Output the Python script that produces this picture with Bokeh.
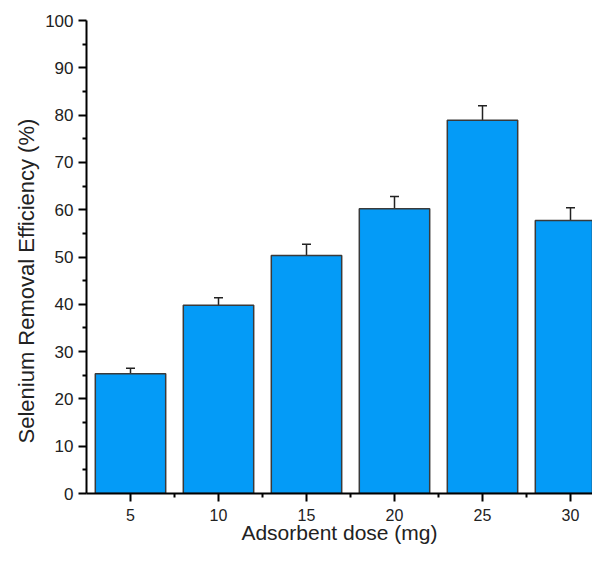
from bokeh.plotting import figure
from bokeh.models import ColumnDataSource, Whisker, FixedTicker, Range1d, TeeHead, Title
from bokeh.embed import file_html
from bokeh.resources import INLINE

dose = [5, 10, 15, 20, 25, 30]
efficiency = [25.3, 39.8, 50.3, 60.2, 78.9, 57.7]
error = [1.2, 1.6, 2.4, 2.6, 3.1, 2.7]
x_ticks = [5, 10, 15, 20, 25, 30]
y_ticks = [0, 10, 20, 30, 40, 50, 60, 70, 80, 90, 100]

src = ColumnDataSource(dict(
    x=dose, top=efficiency,
    upper=[v + e for v, e in zip(efficiency, error)],
    lower=[v - e for v, e in zip(efficiency, error)],
))

p = figure(width=592, height=546, output_backend="svg", toolbar_location=None,
           x_range=Range1d(2.5, 31.25), y_range=Range1d(0, 100),
           min_border_left=86, min_border_right=0, min_border_top=20, min_border_bottom=53)
p.outline_line_color = None
p.xgrid.visible = False
p.ygrid.visible = False
p.background_fill_color = "white"
p.border_fill_color = "white"

p.vbar(x="x", top="top", bottom=0, width=4, source=src,
       fill_color="#049BF7", line_color="#3a3a3a", line_width=1.5)

head_u = TeeHead(size=9, line_color="#222222", line_width=1.5)
head_l = TeeHead(size=9, line_color="#222222", line_width=1.5)
w = Whisker(base="x", upper="upper", lower="lower", source=src,
            line_color="#222222", line_width=1.5, upper_head=head_u, lower_head=head_l)
p.add_layout(w)

font = "Liberation Sans"
for ax in (p.xaxis[0], p.yaxis[0]):
    ax.axis_line_width = 2
    ax.axis_line_color = "black"
    ax.major_tick_line_width = 2
    ax.minor_tick_line_width = 2
    ax.major_tick_line_color = "black"
    ax.minor_tick_line_color = "black"
    ax.major_tick_out = 8
    ax.major_tick_in = 0
    ax.minor_tick_out = 4
    ax.minor_tick_in = 0
    ax.major_label_text_font = font
    ax.major_label_text_font_size = "17px"
    ax.major_label_text_color = "#222222"
    ax.axis_label_text_font = font
    ax.axis_label_text_font_size = "21px"
    ax.axis_label_text_font_style = "normal"
    ax.axis_label_text_color = "#222222"

p.xaxis.major_label_text_font_size = "16px"
p.xaxis.ticker = FixedTicker(ticks=x_ticks, minor_ticks=[7.5, 12.5, 17.5, 22.5, 27.5])
p.yaxis.ticker = FixedTicker(ticks=y_ticks, minor_ticks=[5, 15, 25, 35, 45, 55, 65, 75, 85, 95])
p.xaxis.major_label_standoff = 7
p.yaxis.major_label_standoff = 5
p.xaxis.axis_label = "Adsorbent dose (mg)"
p.xaxis.axis_label_standoff = -3

ytitle = Title(text="Selenium Removal Efficiency (%)", align="left", offset=50,
               text_font=font, text_font_size="22px", text_font_style="normal",
               text_color="#222222", standoff=8)
p.add_layout(ytitle, "left")

open("out.html", "w").write(file_html(p, INLINE))
